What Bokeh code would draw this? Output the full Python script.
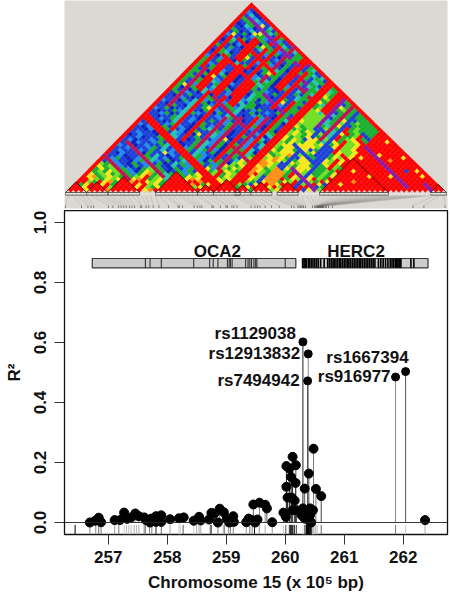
from bokeh.plotting import figure
from bokeh.layouts import column
from bokeh.models import Range1d, FixedTicker, PrintfTickFormatter, Span
from bokeh.core.properties import value
from bokeh.embed import file_html
from bokeh.resources import INLINE

# ---------- data ----------
point_x = [256.69,256.78,256.84,256.88,257.11,257.2,257.27,257.32,257.39,257.46,257.52,257.61,257.64,257.71,257.73,257.81,257.81,257.9,257.9,258.05,258.2,258.28,258.45,258.54,258.57,258.71,258.75,258.8,258.86,258.89,258.96,259.01,259.05,259.12,259.13,259.34,259.38,259.44,259.46,259.49,259.53,259.565,259.66,259.69,259.78,259.97,260.01,260.02,260.02,260.04,260.07,260.10,260.11,260.125,260.125,260.16,260.175,260.18,260.19,260.28,260.30,260.33,260.33,260.36,260.39,260.40,260.42,260.42,260.44,260.47,260.48,260.52,260.61,262.37]
point_r2 = [0.0,.006,.016,.001,.008,.008,.033,.012,.017,.03,.021,.017,.008,0,.013,.021,.002,.024,.002,.011,.014,.017,.006,.019,.007,.01,.032,.03,0,.046,.034,.013,0,.021,.002,.001,.013,.008,.06,0,.01,.066,.059,.047,.001,.033,.019,.188,.119,.083,.18,.152,.083,.219,.041,.073,.132,.191,.041,.024,.047,.113,.013,.041,.008,.163,.047,.024,0,.041,.246,.112,.088,.008]
point_shade = ["#555555","#777777","#444444","#666666","#888888","#555555","#999999","#aaaaaa","#888888","#aaaaaa","#777777","#666666","#555555","#444444","#666666","#222222","#222222","#555555","#555555","#888888","#aaaaaa","#333333","#aaaaaa","#777777","#888888","#333333","#444444","#666666","#555555","#666666","#777777","#888888","#666666","#444444","#777777","#777777","#555555","#333333","#666666","#222222","#888888","#888888","#888888","#555555","#666666","#555555","#222222","#222222","#333333","#222222","#111111","#111111","#333333","#222222","#555555","#333333","#111111","#555555","#444444","#888888","#222222","#555555","#111111","#111111","#111111","#444444","#111111","#333333","#111111","#111111","#777777","#777777","#444444","#999999"]

lead_x = [260.30,260.39,260.38,261.87,262.04]
lead_r2 = [.602,.562,.472,.485,.503]
lead_shade = ["#222222","#888888","#444444","#888888","#555555"]
lead_names = ["rs1129038","rs12913832","rs7494942","rs916977","rs1667394"]
lead_dx = [-7,-8,-8,-5,3]
lead_dy = [-8,0,0,-1,-14]

rug_x = [256.44,256.69,256.79,256.84,256.88,257.11,257.18,257.27,257.31,257.35,257.39,257.44,257.48,257.52,257.61,257.63,257.7,257.74,257.81,257.90,258.05,258.2,258.22,258.27,258.45,258.5,258.54,258.57,258.73,258.75,258.86,258.95,258.97,259.04,259.07,259.12,259.34,259.40,259.44,259.48,259.56,259.66,259.78,259.97,260.01,260.07,260.09,260.11,260.125,260.15,260.16,260.19,260.30,260.33,260.35,260.36,260.37,260.38,260.385,260.39,260.395,260.40,260.405,260.41,260.415,260.42,260.425,260.43,260.435,260.44,260.445,260.45,260.455,260.46,260.47,260.48,260.50,260.52,260.55,260.61,261.87,262.04,262.37]
rug_shade = ["#000000","#888888","#888888","#666666","#777777","#999999","#777777","#cccccc","#bbbbbb","#bbbbbb","#bbbbbb","#aaaaaa","#bbbbbb","#aaaaaa","#888888","#777777","#888888","#777777","#222222","#666666","#aaaaaa","#cccccc","#cccccc","#555555","#cccccc","#aaaaaa","#aaaaaa","#aaaaaa","#555555","#666666","#888888","#aaaaaa","#888888","#999999","#777777","#888888","#999999","#777777","#888888","#111111","#999999","#aaaaaa","#999999","#cccccc","#555555","#333333","#222222","#111111","#222222","#111111","#333333","#555555","#dddddd","#666666","#444444","#111111","#000000","#000000","#111111","#000000","#222222","#000000","#000000","#111111","#000000","#333333","#000000","#111111","#000000","#333333","#111111","#000000","#555555","#aaaaaa","#cccccc","#bbbbbb","#cccccc","#aaaaaa","#cccccc","#666666","#777777","#cccccc","#aaaaaa"]

oca2_span = [256.73,260.18]
herc2_span = [260.29,262.42]
gene_names = ["OCA2","HERC2"]
gene_label_x = [258.85,261.2]
oca2_exons = [257.63,257.71,257.90,258.45,258.72,258.78,258.86,259.02,259.05,259.07,259.10,259.33,259.37,259.40,259.43,259.47,259.50,259.52,260.00]
herc2_exons = [260.30,260.32,260.34,260.355,260.39,260.41,260.44,260.47,260.50,260.53,260.56,260.60,260.66,260.72,260.75,260.78,260.81,260.83,260.86,260.89,260.92,260.94,260.97,261.00,261.03,261.06,261.08,261.11,261.14,261.17,261.20,261.23,261.26,261.28,261.31,261.34,261.37,261.40,261.43,261.46,261.49,261.52,261.58,261.62,261.66,261.70,261.74,261.78,261.81,261.84,261.87,261.89,261.91,261.93,261.95,261.96,262.13,262.18]

x_ticks = [257,258,259,260,261,262]
y_ticks = [0,.2,.4,.6,.8,1.0]

# LD triangle: one string per screen row, apex first; codes name the colour of each pair
ld_rows = [
"r","rb","rbb","rcdb","rbtdb","rgbcdb","rbgbtbb","rdbgbcbg","rbdtgbcbb","rgbbcdgbtb",
"rbgdbtbcgbd","rcbbgdbybtgb","rbgbdbcbgbbgd","rdbtbgbdbcgbgb","rbcgbbdgbtbgcbg","rgbbdcbgbdgbtgbb","rbtbgbdbcgybbgtbg","rdbgcbbdgbtbgbbgdb","rbbgtdbcbgbbgdcgbtb","rcbdbgbbtgdbcbgbtbgb",
"rbgbcdbgbybtbgbdgcbgt","rdbbgtbdcgbbgdbcbgpgb","rgbcbdbgtbbgcdgbtbpgbg","rbdbgbcbbdgtbbgcbdgbgbp","rcbtgbdbbcgbdbgytbgbpgbg","rbgbdbtcbbgdbcbgbtbdgpbgt","rdbcgbbtdgbcbbdgbgtbcbgpgb","rbgbdcbbgtbdgbcbtgbbdgpbgtb","rbbtgdbcbgbdbgctbbgdbgbpgbgt","rcbdgbbtcbgdbbcgbtbdbgbgpbtgb",
"rgbbcdtbgbdcbgbbtgcdbgbbgpgtgb","rbdbgbcbtbgdbcbbgtbdgbcbgbtgbgy","rcbbdgbtcbbgdbcbgbtbdbgcbgpgtgbg","rbgbcbdtbgbbcgdbbgtcbdbgbtgpgbltg","rbdcbgbbtdgbcbbgdtbcbgbdbgbgtpglgb","rbbgcbdbtgbbcdbgbtbgcdbgbbtgbpgygtg","rcbbdgbtbcgbdbbgctbdgbbcgbtbgpgglgtg","rbdgbbctbgdbbcgbtbdbgcbbgbgtbtgygblg","rbbcgbdtbbgcdbgbbtcgdbbgcbtbgglgtgygb","rcbgdbbtcbgbdbbgctbgdbbcgbgtbtgglgbgyg",
"rbdbbgctbbdgbcbbgtdbcgbbdgbtgbglygtbglg","rbbcgdbtbgcbbdgbctbbgdbcbgbtgbglgtglbgyg","rcbdbbgtcbbdgbcbtgbdbcgbbdgtbgylgblgtgyg","rbdbcbgtbbcdgbbctgbdbbgcbdgtbgglgyglbgtgy","rbbcbdbtgbcbdbgbtcbgdbbcgbgdtgbylggbtglygb","rcbbdbcgtbbdcgbbtcgbdbgcbbgtdgblglygtgylbgl","rbdcbbgbtcbdbgbctbgdbbcgbdgtbglygbylgtgylbg","rbbdcbbgtbcdbbgtcbgdbbgcbdtgbgyglgybgltgyrgl","rbcbbdgbbtcdbgbbtgcbdbgbcbgtdgblygylgbgtyrglg","rdbcbbdgbtcbbdgbgtcbdbgbgcbtgbglylgyblgtlyrglb",
"rbbcdbbgcbtbdbgbbtcgdbbgcbgdtglyglgybgltyrgglrb","rbcdbbcbgbtbcdbgtbcbgdbbgcgtbglygylbgytlyrglyrgb","rbbdcbbcgbtcdbbgbtcbgbdbgcbgdtylgylgbygtlygrlyrgb","rcbbdbcbbgtbcdbgbtcbgdbgbcgbtdglylgygblytgyrglyrgl","rbbcdbbcgbtbdbcgbtbcgdbgbcgbtgylglyglbyltgyrlgyrlg","rbcbbdcbgbtbcdbgbtgbcdbgbgctbglyglygylbgylgrylyrglb","rbdcbbcdgbbtcbdgbtcbgdbgcbgtdlyglygylblyltgryglyrglb","gbbcdbbcgbtbdcbgbtgcbdgbcgbtgylyglyoylbglyrgyrlyrbgl","gbcgbdbcbgtbcdbgtbgcdbgbcgbdlyglyoyglbylgyrgylryrlgbl","lbgcbbdcgbtcbgdbtgbcdgbgcbtylgyoyoylbgyylrgylryrlbgyl",
"ylgbcbdgbctbgdbtgcbdgbcgbdlylgyooylbgylgyrgylryrgblyl","gyglbcbdgbctgbdtbgcdgbgcbylgyloyoylbylgyrgylyrlrlbgly","lgyglbgcbdgltgbdgbcgbgycblgylyooyglbgylgrylgyrlgrbgyl","yglgylbgcdgyltgdbgcgbgyglrylgyooylgbylgyrlgyrlgrybgylg","oyglyglbgcgyogltgbgcgyyglrgylyoorlgbylgrylgyrlgyrbgylgl","ryoglylgbglyrglgtgcgylyrlrgylorrylbgylgrylgyrlgyrbyglgr","lrylgylygbyorglytgglyoyrlrylyoorylbgylrgylryrlgrybyglrr","yrlgryoglyorrylygglyorrorglyoorrlgbylrgylryrlgrybgylrrr","rgyrlyrgyorryrlyggyorrorgylorrrlgbylrgyrlrylgrybyglrrrr","rryrgyrlorrryrlgyorrrorlyorrrrlgbyrlgyrlrylrrybgylrrrrr",
"rrryrryorrrryryorrrorryorrrrrlgbyrgyrrlyrrrrbyglrrrrrrr",
]

# SNPs whose pairs are strongly linked: (i from, i to, j from, j to, colour)
ld_stripes = [
(0,0,0,71,"r"),(0,71,71,71,"r"),
(29,30,31,71,"r"),(0,28,29,30,"r"),
(5,6,45,56,"r"),(9,10,47,57,"r"),(7,8,58,66,"r"),(11,11,58,70,"r"),(16,16,58,71,"m"),(20,21,60,70,"r"),
(19,19,35,47,"m"),(16,16,33,44,"m"),(12,12,32,48,"r"),(24,24,33,52,"m"),(26,26,40,60,"r"),(3,3,36,50,"m"),(14,15,48,56,"r"),
(2,15,21,21,"m"),(0,9,14,14,"m"),(2,20,68,68,"p"),(22,28,40,40,"m"),(18,28,56,56,"p"),(24,28,64,64,"m"),
(4,18,62,62,"r"),(4,12,56,56,"r"),(6,14,66,66,"g"),(2,2,50,62,"r"),(13,13,50,68,"r"),(18,18,50,70,"g"),
(23,23,55,68,"r"),(27,27,50,66,"g"),(22,22,34,50,"r"),(8,8,32,46,"r"),(10,22,46,46,"m"),(1,1,40,52,"g"),
(36,36,40,60,"b"),(42,42,44,56,"b"),(34,40,52,52,"b"),(38,46,47,47,"p"),
(33,34,48,51,"y"),(41,42,52,58,"b"),(35,37,40,44,"o"),(36,37,53,56,"y"),(32,34,58,62,"l"),(39,40,48,50,"y"),
(33,34,64,70,"r"),(38,38,58,70,"m"),(44,45,60,63,"l"),(43,44,50,53,"g"),(40,40,54,70,"b"),(35,35,60,70,"p"),
(48,71,48,71,"r"),(48,63,65,65,"p"),(66,70,69,69,"p"),
]
# LD blocks outlined along the base of the triangle
ld_blocks = [(0,3),(4,7),(8,13),(17,24),(25,27),(28,32),(32,34),(35,38),(40,43),(48,60),(69,71)]
ld_spots = [(50,58,"y"),(52,66,"y"),(49,62,"y"),(55,67,"o"),(57,70,"y"),(60,68,"b"),(62,70,"y"),(54,60,"y"),(50,53,"y"),(64,70,"y"),(51,70,"y"),(58,64,"y"),(52,56,"o"),
            (2,62,"y"),(11,43,"y"),(2,43,"y"),(11,26,"y"),(6,66,"y"),(6,69,"y"),(16,61,"y"),(6,50,"y"),(20,40,"y"),(24,58,"y"),(14,36,"y")]

palette = {"r":"#ff0000","b":"#1a40d8","d":"#0a20c0","c":"#1c8cf0","t":"#20c8b0","g":"#18b030",
           "l":"#70e020","y":"#f8e818","o":"#ff9010","p":"#8a18a8","m":"#c01050"}

# ---------- LD panel ----------
N = 72
PX_SNP = 381 / N
PX_H = 190 / N
SHEAR = 4.5 / PX_SNP / (N - 1)   # the apex sits a little left of the base's middle
top = figure(width=450, height=210, output_backend="svg", toolbar_location=None,
             x_range=Range1d(-0.5 - 1 / PX_SNP, N - 0.5 + 1 / PX_SNP),
             y_range=Range1d(-16 / PX_H, 192 / PX_H),
             min_border_left=64, min_border_right=3, min_border_top=0, min_border_bottom=2,
             background_fill_color="#dcd8d2", outline_line_color=None, border_fill_color="white")
top.axis.visible = False
top.grid.visible = False

cells = {}
for r, row in enumerate(ld_rows):
    h = N - 1 - r
    for k in range(r + 1):
        cells[(k, k + h)] = row[k] if k < len(row) else "g"
for i0, i1, j0, j1, code in ld_stripes:
    for (i, j) in cells:
        if i0 <= i <= i1 and j0 <= j <= j1:
            cells[(i, j)] = code
for a, b in ld_blocks:
    for (i, j) in cells:
        if a <= i and j <= b:
            cells[(i, j)] = "r"
for i, j, code in ld_spots:
    cells[(i, j)] = code

xs, ys, cols = [], [], []
for (i, j), code in cells.items():
    cy = j - i
    cx = (i + j) / 2 - SHEAR * cy
    xs.append([cx - .5, cx, cx + .5, cx])
    ys.append([cy, cy + 1, cy, cy - 1])
    cols.append(palette[code])
top.patches(xs, ys, fill_color=cols, line_color=cols, line_width=0.3)

# fan from SNP to its genome position, ticks
n_rug = len(rug_x)
fan_from = [k * (N - 1) / (n_rug - 1) for k in range(n_rug)]
px = lambda v: (v - 256.44) * 64 / PX_SNP - 0.5
top.segment([px(v) for v in rug_x], [-13 / PX_H] * n_rug, fan_from, [-1.2] * n_rug,
            line_color="#777777", line_width=0.4, line_alpha=0.5)
top.segment([px(v) for v in rug_x], [-13 / PX_H] * n_rug, [px(v) for v in rug_x], [-15.5 / PX_H] * n_rug,
            line_color="#666666", line_width=0.8)

# block outlines
for a, b in ld_blocks:
    top.line([a - .5, (a + b) / 2 - SHEAR * (b - a + 1), b + .5], [0, (b - a + 1), 0], line_color="#201010", line_width=0.8)
    top.line([a - .5, a - .5, b + .5, b + .5, a - .5], [0, -1, -1, 0, 0], line_color="#303030", line_width=0.7)
top.line([-.5, N - .5], [-.5, -.5], line_color="white", line_width=0.8, line_dash="2 2")

# ---------- association panel ----------
main = figure(width=450, height=384, output_backend="svg", toolbar_location=None,
              x_range=Range1d(256.26, 262.75), y_range=Range1d(-0.04, 1.04),
              min_border_left=63, min_border_right=1, min_border_top=0, min_border_bottom=60,
              outline_line_color="#111111", outline_line_width=1.3)
main.grid.visible = False
main.xaxis.ticker = FixedTicker(ticks=x_ticks)
main.yaxis.ticker = FixedTicker(ticks=y_ticks)
main.yaxis.formatter = PrintfTickFormatter(format="%.1f")
main.yaxis.major_label_orientation = "vertical"
for ax in (main.xaxis[0], main.yaxis[0]):
    ax.axis_line_color = None
    ax.major_tick_out = 10
    ax.major_tick_in = 0
    ax.minor_tick_out = 0
    ax.minor_tick_in = 0
    ax.major_tick_line_color = "#333333"
    ax.major_tick_line_width = 1
    ax.major_label_text_font = "Liberation Sans"
    ax.major_label_text_font_style = "bold"
    ax.major_label_text_font_size = "17px"
    ax.major_label_text_color = "#111111"
    ax.axis_label_text_font = "Liberation Sans"
    ax.axis_label_text_font_style = "bold"
    ax.axis_label_text_font_size = "17px"
    ax.axis_label_text_color = "#111111"
main.xaxis.major_label_standoff = 6
main.yaxis.major_label_standoff = 9
main.xaxis.axis_label = "Chromosome 15 (x 10\u2075 bp)"
main.xaxis.axis_label_standoff = 7
main.yaxis.axis_label = "R\u00b2"
main.yaxis.axis_label_standoff = 7

main.add_layout(Span(location=0, dimension="width", line_color="#222222", line_width=0.9))
main.segment(rug_x, [-0.04] * n_rug, rug_x, [-0.008] * n_rug, line_color=rug_shade, line_width=1)
main.segment(point_x, [0] * len(point_x), point_x, point_r2, line_color=point_shade, line_width=1)
main.segment(lead_x, [0] * 5, lead_x, lead_r2, line_color=lead_shade, line_width=1)
main.scatter(point_x, point_r2, size=9, fill_color="black", line_color="black")
main.scatter(lead_x, lead_r2, size=8, fill_color="black", line_color="black")

for name, dx, dy, vx, vy in zip(lead_names, lead_dx, lead_dy, lead_x, lead_r2):
    main.text([vx], [vy], text=[name], x_offset=dx, y_offset=dy, text_align="right", text_baseline="middle",
              text_font=value("Liberation Sans"), text_font_style="bold", text_font_size="17px", text_color="#111111")

for span in (oca2_span, herc2_span):
    main.quad(left=[span[0]], right=[span[1]], bottom=[.849], top=[.88], fill_color="#cccccc",
              line_color="#333333", line_width=1.2)
main.segment(oca2_exons, [.849] * len(oca2_exons), oca2_exons, [.88] * len(oca2_exons), line_color="#222222", line_width=1)
main.segment(herc2_exons, [.849] * len(herc2_exons), herc2_exons, [.88] * len(herc2_exons), line_color="#000000", line_width=1.6)
main.text(gene_label_x, [.905, .905], text=gene_names, text_align="center", text_baseline="middle",
          text_font=value("Liberation Sans"), text_font_style="bold", text_font_size="17px", text_color="#111111")

page = column(top, main, spacing=0)
open("out.html", "w").write(file_html(page, INLINE))
